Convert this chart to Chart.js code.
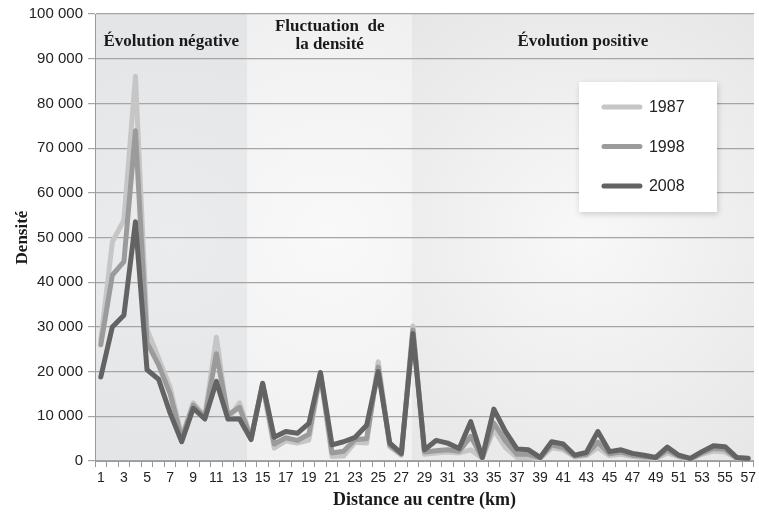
<!DOCTYPE html>
<html>
<head>
<meta charset="utf-8">
<script src="https://cdn.jsdelivr.net/npm/chart.js@4/dist/chart.umd.min.js"></script>
<style>
  html, body { margin: 0; padding: 0; background: #fff; }
  #wrap { width: 759px; height: 516px; }
</style>
</head>
<body>
<div id="wrap"><canvas id="densityChart"></canvas></div>
<script>
// distance au centre (km)
const distances = Array.from({ length: 57 }, (_, i) => i + 1);

const years = ["1987", "1998", "2008"];
const yearColors = ["#c6c6c6", "#9b9b9b", "#636363"];

// densité par km
const density1987 = [
  27000, 49000, 53900, 86100, 29500, 23000, 16500, 5500, 13000, 10000,
  27700, 9300, 13000, 5200, 17000, 2900, 4500, 4000, 4700, 19500,
  1000, 1100, 4200, 4000, 22200, 3200, 1300, 30200, 1500, 1800,
  2000, 1800, 2500, 600, 7000, 3000, 800, 800, 500, 3000,
  2500, 900, 1200, 3000, 1200, 1500, 1000, 800, 500, 1800,
  900, 400, 1500, 2200, 2000, 600, 400
];
const density1998 = [
  26000, 41600, 44600, 73900, 26500, 21500, 15000, 5000, 12500, 9800,
  24000, 10300, 12000, 5000, 17300, 3800, 5200, 4600, 6000, 19600,
  1800, 2200, 4800, 5000, 21000, 3500, 1500, 29300, 2000, 2300,
  2500, 2200, 5500, 700, 8500, 4500, 1500, 1500, 700, 3600,
  3000, 1100, 1500, 4200, 1600, 2000, 1300, 1000, 700, 2400,
  1100, 500, 1800, 2800, 2600, 700, 500
];
const density2008 = [
  18800, 30000, 32600, 53500, 20400, 18300, 10700, 4300, 11800, 9400,
  17800, 9400, 9400, 4800, 17400, 5300, 6600, 6200, 8400, 19800,
  3600, 4300, 5300, 8000, 20000, 4000, 1700, 28500, 2500, 4600,
  4000, 2800, 8800, 800, 11600, 6600, 2700, 2500, 800, 4300,
  3800, 1300, 1900, 6600, 2100, 2500, 1700, 1300, 800, 3100,
  1300, 600, 2100, 3400, 3200, 800, 600
];

// zones : bornes en km et titres
const zoneBounds = [0.5, 13.7, 27.9, 57.5];
const zoneTitles = [["Évolution négative"], ["Fluctuation  de", "la densité"], ["Évolution positive"]];

const serif = "'Liberation Serif', 'Times New Roman', serif";
const sans = "'Liberation Sans', Arial, sans-serif";

function formatThousands(v) {
  return String(v).replace(/\B(?=(\d{3})+(?!\d))/g, " ");
}

// fond des zones + titres
const zonesPlugin = {
  id: "zones",
  beforeDraw(chart) {
    const { ctx, chartArea: a } = chart;
    const step = (a.right - a.left) / distances.length;
    const px = (k) => a.left + (k - 0.5) * step;
    const fills = [
      ["#ebecee", "#e0e1e3"],
      ["#f9f9f9", "#ececec"],
      ["#f8f8f8", "#e3e3e3"],
    ];
    ctx.save();
    for (let i = 0; i < 3; i++) {
      const x0 = px(zoneBounds[i]);
      const x1 = px(zoneBounds[i + 1]);
      const cx = (x0 + x1) / 2;
      const cy = (a.top + a.bottom) / 2;
      const r = Math.max(x1 - x0, a.bottom - a.top) * 0.75;
      const g = ctx.createRadialGradient(cx, cy, 0, cx, cy, r);
      g.addColorStop(0, fills[i][0]);
      g.addColorStop(1, fills[i][1]);
      ctx.fillStyle = g;
      ctx.fillRect(x0, a.top, x1 - x0, a.bottom - a.top);
    }
    ctx.restore();
  },
  afterDraw(chart) {
    const { ctx, chartArea: a } = chart;
    const step = (a.right - a.left) / distances.length;
    const px = (k) => a.left + (k - 0.5) * step;
    ctx.save();
    ctx.fillStyle = "#1a1a1a";
    ctx.font = "bold 17px " + serif;
    ctx.textAlign = "center";
    ctx.textBaseline = "middle";
    for (let i = 0; i < 3; i++) {
      const cx = (px(zoneBounds[i]) + px(zoneBounds[i + 1])) / 2;
      const lines = zoneTitles[i];
      if (lines.length === 1) {
        ctx.fillText(lines[0], cx, a.top + 28);
      } else {
        ctx.fillText(lines[0], cx, a.top + 13);
        ctx.fillText(lines[1], cx, a.top + 31);
      }
    }

    // légende
    const bx = a.right - 175, by = a.top + 68, bw = 138, bh = 130;
    ctx.shadowColor = "rgba(0,0,0,0.18)";
    ctx.shadowBlur = 6;
    ctx.shadowOffsetX = 1;
    ctx.shadowOffsetY = 2;
    ctx.fillStyle = "#ffffff";
    ctx.fillRect(bx, by, bw, bh);
    ctx.shadowColor = "transparent";
    ctx.font = "16px " + sans;
    ctx.textAlign = "left";
    years.forEach((y, i) => {
      const ly = by + 25 + i * 39.5;
      ctx.strokeStyle = yearColors[i];
      ctx.lineWidth = 5;
      ctx.lineCap = "round";
      ctx.beginPath();
      ctx.moveTo(bx + 25, ly);
      ctx.lineTo(bx + 61, ly);
      ctx.stroke();
      ctx.fillStyle = "#222";
      ctx.fillText(y, bx + 70, ly + 1);
    });
    ctx.restore();
  },
};

const seriesData = [density1987, density1998, density2008];

new Chart(document.getElementById("densityChart"), {
  type: "line",
  data: {
    labels: distances,
    datasets: years.map((y, i) => ({
      label: y,
      data: seriesData[i],
      borderColor: yearColors[i],
      backgroundColor: yearColors[i],
      borderWidth: 5,
      pointRadius: 0,
      tension: 0,
      borderJoinStyle: "round",
      borderCapStyle: "round",
      order: 2 - i,
    })),
  },
  options: {
    responsive: true,
    maintainAspectRatio: false,
    animation: false,
    layout: { padding: { top: 14, right: 4, left: 0, bottom: 0 } },
    plugins: {
      legend: { display: false },
      tooltip: { enabled: false },
    },
    scales: {
      x: {
        type: "category",
        offset: true,
        afterFit: (s) => { s.height = 55; },
        grid: {
          offset: true,
          drawOnChartArea: false,
          drawTicks: true,
          tickLength: 6,
          color: "#9a9a9a",
        },
        border: { color: "#9a9a9a" },
        ticks: {
          autoSkip: false,
          maxRotation: 0,
          padding: 3,
          color: "#222",
          font: { family: sans, size: 14 },
          callback: function (val, idx) {
            return idx % 2 === 0 ? String(distances[idx]) : "";
          },
        },
        title: {
          display: true,
          text: "Distance au centre (km)",
          color: "#1a1a1a",
          font: { family: serif, size: 18, weight: "bold" },
          padding: { top: 0, bottom: 5 },
        },
      },
      y: {
        min: 0,
        max: 100000,
        afterFit: (s) => { s.width = 95; },
        grid: {
          color: "#a5a5a5",
          lineWidth: 1.2,
          tickLength: 7,
        },
        border: { color: "#9a9a9a" },
        ticks: {
          stepSize: 10000,
          padding: 5,
          color: "#222",
          font: { family: sans, size: 15 },
          callback: (v) => formatThousands(v),
        },
        title: {
          display: true,
          text: "Densité",
          color: "#1a1a1a",
          font: { family: serif, size: 17, weight: "bold" },
          padding: { top: 12, bottom: 0 },
        },
      },
    },
  },
  plugins: [zonesPlugin],
});
</script>
</body>
</html>
